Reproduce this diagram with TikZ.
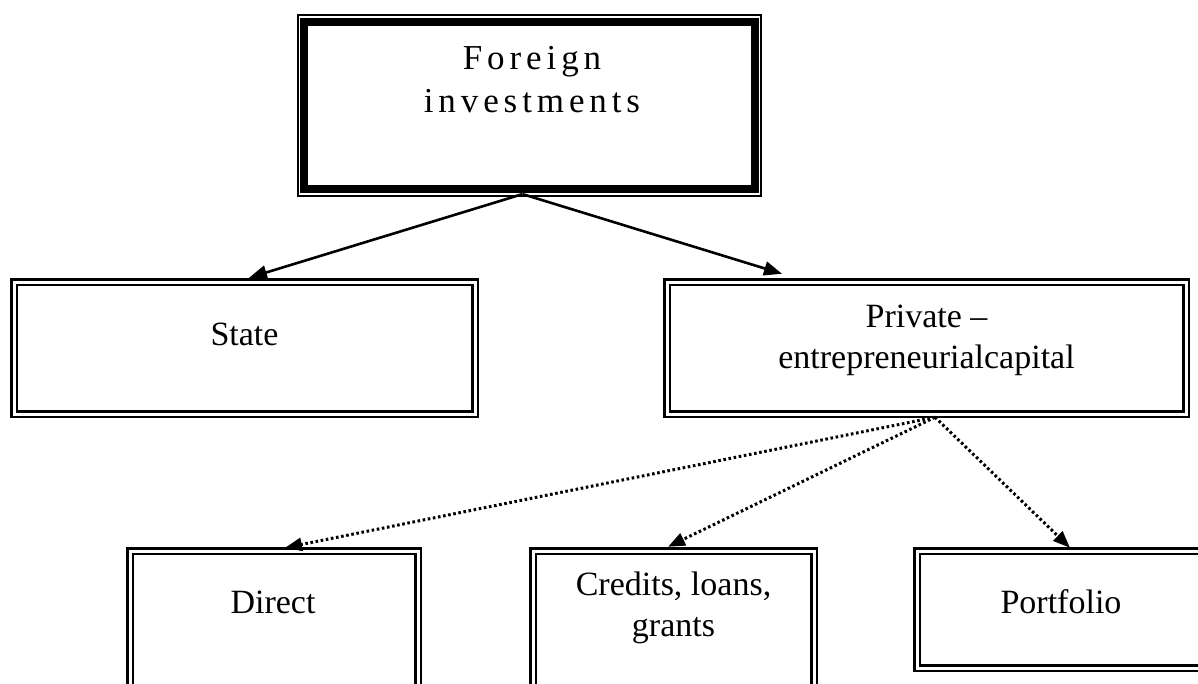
\documentclass[tikz,border=0pt]{standalone}
\usepackage{fontspec}
\setmainfont{Liberation Serif}
\usetikzlibrary{arrows.meta}
\newcommand{\twolines}[2]{\begin{tabular}[t]{@{}c@{}}#1\\#2\end{tabular}}
\begin{document}
\begin{tikzpicture}[x=1pt,y=-1pt,
  dbox/.style={draw, double=white, line width=2.5pt, double distance=3pt, rectangle, inner sep=0pt},
  txt/.style={inner sep=0pt, anchor=base, font=\fontsize{34}{41}\selectfont},
  solidarrow/.style={line width=2.6pt, -{Triangle[length=18pt,width=14pt]}},
  dotarrow/.style={line width=3pt, dash pattern=on 2.6pt off 2.6pt, -{Triangle[length=17pt,width=13pt]}}]
\useasboundingbox (0,0) rectangle (1198,683);
\clip (0,0) rectangle (1198,683);
% top box
\node[draw, line width=1.8pt, rectangle, inner sep=0pt, minimum width=463.4pt, minimum height=181.4pt] (top) at (529.5,105.5) {};
\node[draw, line width=7.6pt, rectangle, inner sep=0pt, minimum width=450.8pt, minimum height=167pt] (topin) at (529.5,105.5) {};
\node[txt, font=\fontsize{35}{43}\selectfont\addfontfeature{LetterSpace=14}] (topT) at (532,69) {\twolines{Foreign}{investments}};
% second level
\node[dbox, minimum width=461pt, minimum height=132pt] (state) at (244.5,348) {};
\node[txt] (stateT) at (244.5,345) {State};
\node[dbox, minimum width=519pt, minimum height=132pt] (priv) at (926.5,348) {};
\node[txt] (privT) at (926.5,327) {\twolines{Private --}{entrepreneurialcapital}};
% third level
\node[dbox, minimum width=288pt, minimum height=169pt] (direct) at (274,635.5) {};
\node[txt] (directT) at (273,613) {Direct};
\node[dbox, minimum width=281pt, minimum height=169pt] (credits) at (673.5,635.5) {};
\node[txt] (creditsT) at (673.5,595) {\twolines{Credits, loans,}{grants}};
\node[dbox, minimum width=288pt, minimum height=117pt] (port) at (1061,609.5) {};
\node[txt] (portT) at (1061,613) {Portfolio};
% connectors
\coordinate (src) at ([xshift=-7pt,yshift=3pt]top.south);
\draw[solidarrow] (src) -- ([xshift=4.5pt,yshift=3pt]state.north);
\draw[solidarrow] (src) -- ([xshift=-144.5pt,yshift=7pt]priv.north);
\coordinate (dsrc) at ([xshift=8.5pt,yshift=-2pt]priv.south);
\draw[dotarrow] (dsrc) -- ([xshift=11pt,yshift=2pt]direct.north);
\draw[dotarrow] (dsrc) -- ([xshift=-5.5pt,yshift=3pt]credits.north);
\draw[dotarrow] (dsrc) -- ([xshift=9pt,yshift=2pt]port.north);
\end{tikzpicture}
\end{document}
